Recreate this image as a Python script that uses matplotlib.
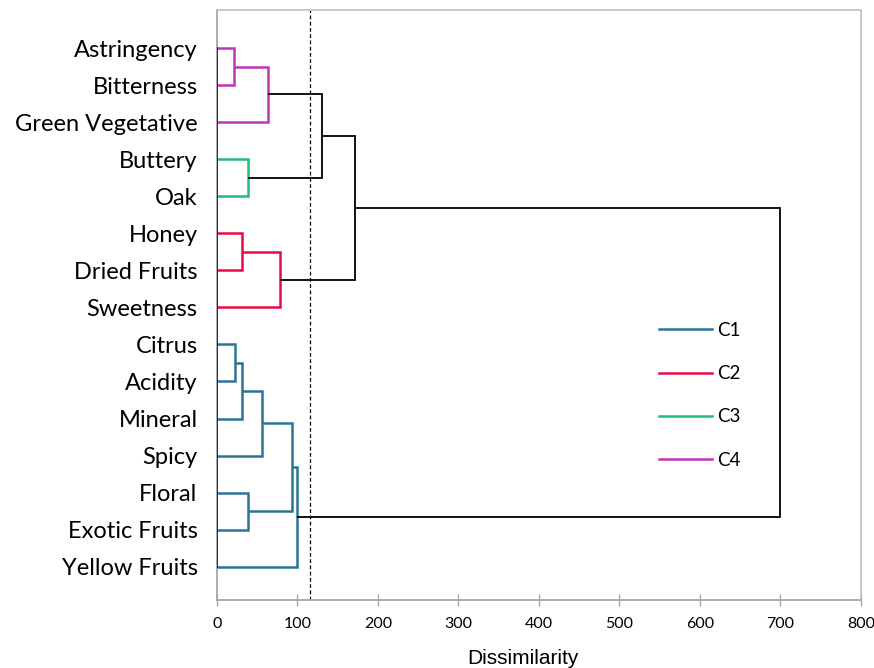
import matplotlib
matplotlib.use("Agg")
import matplotlib.pyplot as plt
from matplotlib.lines import Line2D

plt.rcParams['font.family'] = ['Lato', 'DejaVu Sans']

# leaves, top to bottom
leaves = ["Astringency", "Bitterness", "Green Vegetative", "Buttery", "Oak",
          "Honey", "Dried Fruits", "Sweetness", "Citrus", "Acidity",
          "Mineral", "Spicy", "Floral", "Exotic Fruits", "Yellow Fruits"]

# merges: (left child, right child, dissimilarity, colour key)
# ints are leaf indices, strings are earlier merge names
merge_names = ["A", "B", "G", "R1", "R2", "K1", "K2",
               "b1", "b2", "b3", "b4", "b5", "b6", "root"]
merge_left = [0, "A", 3, 5, "R1", "B", "K1", 8, "b1", "b2", 12, "b3", "b5", "K2"]
merge_right = [1, 2, 4, 6, 7, "G", "R2", 9, 10, 11, 13, "b4", 14, "b6"]
merge_height = [21, 63, 39, 31, 78, 130, 172, 22, 31, 56, 39, 93, 100, 700]
merge_group = ["C4", "C4", "C3", "C2", "C2", None, None,
               "C1", "C1", "C1", "C1", "C1", "C1", None]

threshold = 115

groups = ["C1", "C2", "C3", "C4"]
group_colors = {"C1": "#2c7396", "C2": "#eb0a45", "C3": "#1fbd78", "C4": "#c235b8"}

fig = plt.figure(figsize=(8.74, 6.68), dpi=100)
ax = fig.add_axes([0.2483, 0.1018, 0.7367, 0.8832])

pos = {}
for i in range(len(leaves)):
    pos[i] = (0.0, float(i))

for name, l, r, h, g in zip(merge_names, merge_left, merge_right, merge_height, merge_group):
    xl, yl = pos[l]
    xr, yr = pos[r]
    if g is None:
        c, lw = "black", 1.3
    else:
        c, lw = group_colors[g], 1.8
    ax.plot([xl, h, h, xr], [yl, yl, yr, yr], color=c, lw=lw,
            solid_joinstyle="miter", solid_capstyle="butt", zorder=3)
    pos[name] = (h, (yl + yr) / 2)

# dark baseline along the leaves
ax.plot([0, 0], [0, len(leaves) - 1], color="#222222", lw=1.3, zorder=4)

ax.axvline(threshold, color="black", lw=0.9, ls=(0, (3, 2)), zorder=2)

ax.set_xlim(0, 800)
ax.set_ylim(len(leaves) - 0.1, -1.03)
ax.set_xticks(range(0, 801, 100))
ax.set_yticks(range(len(leaves)))
ax.set_yticklabels(leaves, fontsize=17)
ax.tick_params(axis="y", length=0, pad=14)
ax.tick_params(axis="x", direction="inout", length=9, width=1, color="#a6a6a6",
               labelsize=11.5, pad=8)

for side in ["left", "bottom"]:
    ax.spines[side].set_color("#a6a6a6")
    ax.spines[side].set_linewidth(1.3)
for side in ["top", "right"]:
    ax.spines[side].set_color("#c4c4c4")
    ax.spines[side].set_linewidth(1.3)

ax.set_xlabel("Dissimilarity", fontsize=15, family=["Liberation Sans", "DejaVu Sans"])
ax.xaxis.set_label_coords(0.475, -0.083)

handles = [Line2D([], [], color=group_colors[g], lw=1.8) for g in groups]
ax.legend(handles, groups, loc="upper left", bbox_to_anchor=(0.66, 0.50),
          frameon=False, fontsize=13.5, handlelength=2.83, handletextpad=0.27,
          labelspacing=1.4)

fig.savefig("out.png", dpi=100)
